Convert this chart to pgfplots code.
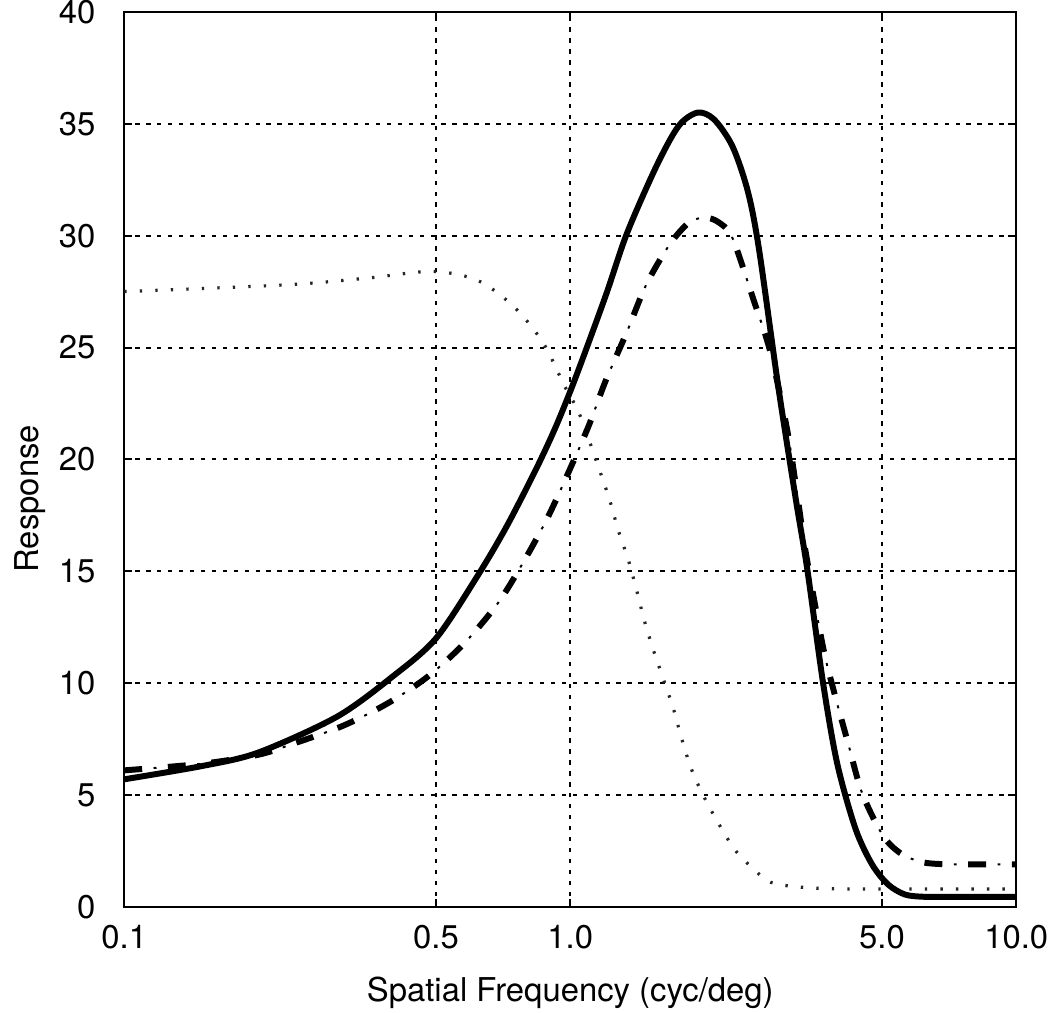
\documentclass[border=0pt]{standalone}
\usepackage{fontspec}
\setmainfont{TeX Gyre Heros}
\usepackage{pgfplots}
\pgfplotsset{compat=1.18}
\begin{document}
\begin{tikzpicture}
\begin{axis}[
  scale only axis,
  width=448.5pt, height=450pt,
  xmode=log, xmin=0.1, xmax=10, ymin=0, ymax=40,
  xtick={0.1,0.5,1,5,10},
  xticklabels={0.1,0.5,1.0,5.0,10.0},
  minor xtick={},
  ytick={0,5,...,40},
  grid=major,
  major grid style={black, line width=1pt, dash pattern=on 2.2pt off 3.3pt},
  axis line style={black, line width=1.2pt},
  tick align=inside,
  major tick length=4pt,
  tick style={black, line width=1pt},
  /pgf/number format/assume math mode=true,
  tick label style={font=\fontsize{16.5}{19}\selectfont},
  label style={font=\fontsize{16.5}{19}\selectfont},
  yticklabel style={xshift=-11pt},
  xticklabel style={yshift=-5.5pt},
  xlabel={Spatial Frequency (cyc/deg)},
  xlabel style={yshift=-7.5pt},
  ylabel={Response},
  ylabel style={at={(ticklabel cs:0.456)}},
]
% dotted curve
\addplot[black!85, line width=1.6pt, dash pattern=on 1.2pt off 6.6pt, smooth, tension=0.5] coordinates {
(0.1,27.5) (0.23,27.8) (0.35,28.1) (0.49,28.4) (0.62,28.0) (0.75,26.8)
(0.87,25.2) (0.97,23.3) (1.05,22.0) (1.164,19.5) (1.225,18.2) (1.283,16.8)
(1.35,15.5) (1.407,14.2) (1.466,12.8) (1.535,11.5) (1.616,10.2) (1.701,8.9)
(1.773,7.6) (1.866,6.2) (1.985,5.0) (2.154,3.7) (2.35,2.5) (2.605,1.6)
(2.814,1.1) (3.2,0.9) (4,0.8) (6,0.8) (10,0.8)
};
% dash-dot curve: thick dashes
\addplot[black, line width=3pt, dash pattern=on 9pt off 13pt, smooth, tension=0.5] coordinates {
(0.1,6.1) (0.15,6.4) (0.2,6.8) (0.24,7.3) (0.31,8.1) (0.39,9.1) (0.48,10.3)
(0.58,11.8) (0.69,13.6) (0.79,15.5) (0.89,17.4) (0.99,19.4) (1.1,21.5)
(1.2,23.5) (1.34,25.7) (1.48,27.8) (1.67,29.6) (1.85,30.6) (2.01,30.8)
(2.15,30.6) (2.31,29.9) (2.58,27.1) (2.81,24.8) (3.06,21.4) (3.23,18.4)
(3.37,15.9) (3.69,11.6) (3.93,9.4) (4.2,7.3) (4.51,5.1) (5.02,3.2)
(5.5,2.4) (6.14,2.0) (7,1.9) (8.5,1.9) (10,1.9)
};
% dash-dot curve: thin dots
\addplot[black, line width=1pt, dash pattern=on 1.5pt off 20.5pt, dash phase=7.25pt, smooth, tension=0.5] coordinates {
(0.1,6.1) (0.15,6.4) (0.2,6.8) (0.24,7.3) (0.31,8.1) (0.39,9.1) (0.48,10.3)
(0.58,11.8) (0.69,13.6) (0.79,15.5) (0.89,17.4) (0.99,19.4) (1.1,21.5)
(1.2,23.5) (1.34,25.7) (1.48,27.8) (1.67,29.6) (1.85,30.6) (2.01,30.8)
(2.15,30.6) (2.31,29.9) (2.58,27.1) (2.81,24.8) (3.06,21.4) (3.23,18.4)
(3.37,15.9) (3.69,11.6) (3.93,9.4) (4.2,7.3) (4.51,5.1) (5.02,3.2)
(5.5,2.4) (6.14,2.0) (7,1.9) (8.5,1.9) (10,1.9)
};
% solid curve
\addplot[black, line width=3pt, line join=round, smooth, tension=0.5] coordinates {
(0.1,5.7) (0.15,6.3) (0.2,6.9) (0.3,8.5) (0.4,10.3) (0.5,12.0) (0.62,14.8)
(0.72,17.0) (0.84,19.6) (0.93,21.5) (1.03,23.7) (1.2,27.3) (1.34,30.1)
(1.56,33.1) (1.75,34.9) (1.93,35.5) (2.1,35.2) (2.31,34.0) (2.5,32.0)
(2.65,29.4) (2.93,23.2) (3.2,18.3) (3.4,15.1) (3.69,10.0) (3.97,6.4)
(4.36,3.5) (4.75,1.9) (5.16,1.0) (5.63,0.55) (6.2,0.45) (7,0.45) (8.5,0.45) (10,0.45)
};
\end{axis}
\pgfresetboundingbox
\path ([xshift=-62.5pt,yshift=-53pt]current axis.south west) rectangle ([xshift=17pt,yshift=6pt]current axis.north east);
\end{tikzpicture}
\end{document}
